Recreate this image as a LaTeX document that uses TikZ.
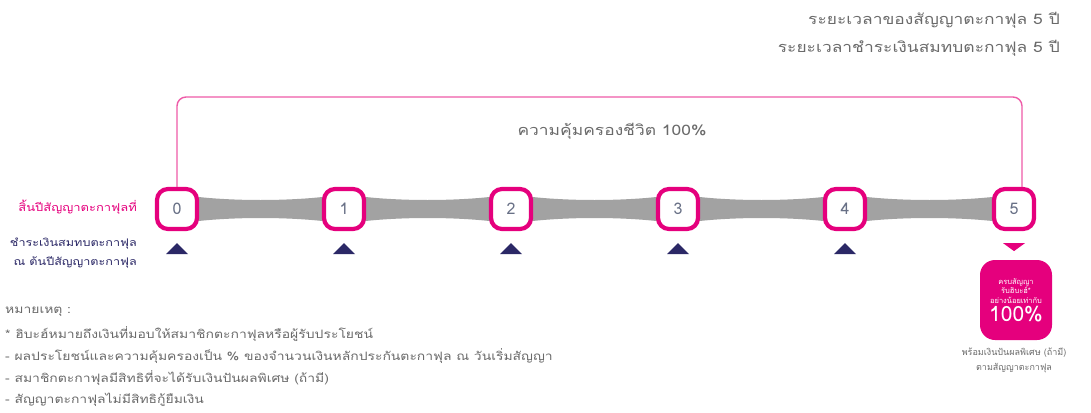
\documentclass[tikz,border=0pt]{standalone}
\usepackage{fontspec}
\setmainfont[Script=Thai, FakeStretch=1.2]{Loma}
\newfontfamily\plainthai[Script=Thai]{Loma}
\usetikzlibrary{calc,backgrounds}
\definecolor{tpink}{HTML}{E5007D}
\definecolor{tpinkl}{HTML}{EE5BA8}
\definecolor{tnavy}{HTML}{2B2866}
\definecolor{tgray}{HTML}{6A6A6A}
\definecolor{tband}{HTML}{A2A2A2}
\definecolor{tdigit}{HTML}{687086}
\tikzset{
  yearbox/.style={draw=tpink, line width=4.2pt, fill=white, rounded corners=11pt,
    minimum width=40pt, minimum height=40pt, inner sep=0pt, text=tdigit,
    font=\plainthai\fontsize{16}{16}\selectfont},
  bracket/.style={draw=tpinkl, line width=1.4pt, rounded corners=9pt},
  band/.style={fill=tband},
  navytri/.style={fill=tnavy},
  graytext/.style={text=tgray, inner sep=0pt},
  bigtext/.style={graytext, font=\fontsize{14.5}{14.5}\selectfont},
  notetext/.style={graytext, font=\fontsize{11.6}{11.6}\selectfont, anchor=west},
  resultbox/.style={fill=tpink, rounded corners=15pt, minimum width=72pt,
    minimum height=80pt, inner sep=0pt, text=white, align=center,
    font=\plainthai\fontsize{7.5}{9.5}\selectfont},
}
\begin{document}
\begin{tikzpicture}[x=1pt,y=-1pt]
\useasboundingbox (0,0) rectangle (1091,412);
% header
\node[bigtext, anchor=east] (h1) at (1060,20) {ระยะเวลาของสัญญาตะกาฟุล 5 ปี};
\node[bigtext, anchor=east] (h2) at (1060,48) {ระยะเวลาชำระเงินสมทบตะกาฟุล 5 ปี};
% year boxes
\node[yearbox] (n0) at (177,209) {0};
\node[yearbox] (n1) at (344,209) {1};
\node[yearbox] (n2) at (511,209) {2};
\node[yearbox] (n3) at (678,209) {3};
\node[yearbox] (n4) at (845,209) {4};
\node[yearbox] (n5) at (1014,209) {5};
% bands
\begin{scope}[on background layer]
\foreach \a/\b in {n0/n1,n1/n2,n2/n3,n3/n4,n4/n5}{
  \fill[band] ($(\a.center)+(0,-15)$) .. controls ($(\a.center)+(45,-7)$) and ($(\b.center)+(-45,-7)$) .. ($(\b.center)+(0,-15)$)
    -- ($(\b.center)+(0,15)$) .. controls ($(\b.center)+(-45,7)$) and ($(\a.center)+(45,7)$) .. ($(\a.center)+(0,15)$) -- cycle;
}
\end{scope}
% bracket
\coordinate (btop) at (600,97);
\draw[bracket] (n0.north) |- (btop) -| ([xshift=8pt]n5.north);
\node[bigtext] (cov) at (612,131) {ความคุ้มครองชีวิต 100\%};
% navy triangles
\foreach \n in {n0,n1,n2,n3,n4}{
  \fill[navytri] ($(\n.south)+(0,12)$) -- ($(\n.south)+(11,23)$) -- ($(\n.south)+(-11,23)$) -- cycle;
}
% pink down triangle
\fill[tpink] ($(n5.south)+(-11,12)$) -- ($(n5.south)+(11,12)$) -- ($(n5.south)+(0,20)$) -- cycle;
% result box
\node[resultbox] (res) at (1016,300) {ครบสัญญา\\ รับฮิบะฮ์*\\ อย่างน้อยเท่ากับ\\[2pt] \fontsize{21}{21}\selectfont 100\%};
\node[graytext, align=center, font=\plainthai\fontsize{9}{15}\selectfont, anchor=north] (resnote) at (1014,348)
  {พร้อมเงินปันผลพิเศษ (ถ้ามี)\\ ตามสัญญาตะกาฟุล};
% left labels
\node[inner sep=0pt, text=tpink, anchor=east, font=\fontsize{10.8}{10.8}\selectfont] (lbl1) at (137,207) {สิ้นปีสัญญาตะกาฟุลที่};
\node[inner sep=0pt, text=tnavy, anchor=east, align=right, font=\fontsize{10.5}{19}\selectfont] (lbl2) at (137,253) {ชำระเงินสมทบตะกาฟุล\\ ณ ต้นปีสัญญาตะกาฟุล};
% notes
\node[notetext] (nt0) at (5,312) {หมายเหตุ :};
\node[notetext] (nt1) at (5,334) {* ฮิบะฮ์หมายถึงเงินที่มอบให้สมาชิกตะกาฟุลหรือผู้รับประโยชน์};
\node[notetext] (nt2) at (5,356) {- ผลประโยชน์และความคุ้มครองเป็น \% ของจำนวนเงินหลักประกันตะกาฟุล ณ วันเริ่มสัญญา};
\node[notetext] (nt3) at (5,378) {- สมาชิกตะกาฟุลมีสิทธิที่จะได้รับเงินปันผลพิเศษ (ถ้ามี)};
\node[notetext] (nt4) at (5,400) {- สัญญาตะกาฟุลไม่มีสิทธิกู้ยืมเงิน};
\end{tikzpicture}
\end{document}
